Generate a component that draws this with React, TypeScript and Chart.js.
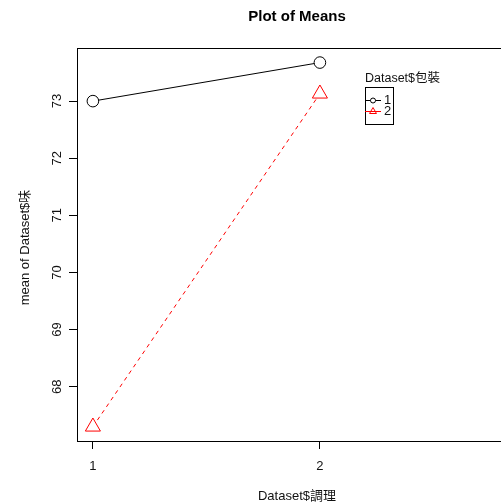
import React, { useEffect, useRef } from "react";
import { Chart, registerables } from "chart.js";

Chart.register(...registerables);

const chartTitle = "Plot of Means";
const xAxisTitle = "Dataset$調理";
const yAxisTitle = "mean of Dataset$味";
const legendTitle = "Dataset$包裝";
const categories = [1, 2];
const seriesLabels = ["1", "2"];
const series1 = [73.0, 73.675];
const series2 = [67.3, 73.13];
const xTicks = [1, 2];
const yTicks = [68, 69, 70, 71, 72, 73];

const FONT = '"Liberation Sans", Arial, "Noto Sans CJK TC", sans-serif';

const rPlugin = {
  id: "rStyle",
  afterDraw(chart: any) {
    const ctx = chart.ctx as CanvasRenderingContext2D;
    const a = chart.chartArea;
    const xs = chart.scales.x;
    const ys = chart.scales.y;
    ctx.save();
    // box
    ctx.strokeStyle = "#000";
    ctx.lineWidth = 1;
    ctx.strokeRect(Math.round(a.left) + 0.5, Math.round(a.top) + 0.5, Math.round(a.right - a.left), Math.round(a.bottom - a.top));
    ctx.fillStyle = "#111";
    ctx.font = "13px " + FONT;
    // x tick labels
    ctx.textAlign = "center";
    ctx.textBaseline = "middle";
    xTicks.forEach((v) => {
      ctx.fillText(String(v), xs.getPixelForValue(v), 466);
    });
    // y tick labels (rotated)
    yTicks.forEach((v) => {
      const y = ys.getPixelForValue(v);
      ctx.save();
      ctx.translate(57, y);
      ctx.rotate(-Math.PI / 2);
      ctx.fillText(String(v), 0, 0);
      ctx.restore();
    });
    // axis titles
    const cx = (a.left + a.right) / 2;
    const cy = (a.top + a.bottom) / 2;
    ctx.fillText(xAxisTitle, cx - 1, 496);
    ctx.save();
    ctx.translate(25, cy + 3);
    ctx.rotate(-Math.PI / 2);
    ctx.fillText(yAxisTitle, 0, 0);
    ctx.restore();
    // main title
    ctx.fillStyle = "#000";
    ctx.font = "bold 15px " + FONT;
    ctx.fillText(chartTitle, cx - 1, 17);
    // legend
    ctx.fillStyle = "#111";
    ctx.font = "12.5px " + FONT;
    ctx.textAlign = "left";
    ctx.fillText(legendTitle, 365, 79);
    ctx.strokeStyle = "#000";
    ctx.strokeRect(365.5, 87.5, 28, 37);
    const rows = [100.5, 111.5];
    ctx.font = "13px " + FONT;
    chart.data.datasets.forEach((ds: any, i: number) => {
      const y = rows[i];
      ctx.strokeStyle = ds.borderColor;
      ctx.beginPath();
      ctx.moveTo(365, y);
      ctx.lineTo(381, y);
      ctx.stroke();
      ctx.beginPath();
      if (i === 0) {
        ctx.arc(373, y, 2.5, 0, Math.PI * 2);
        ctx.fillStyle = "#fff";
        ctx.fill();
        ctx.stroke();
      } else {
        const r = 4;
        ctx.moveTo(373, y - r);
        ctx.lineTo(373 + r * 0.866, y + r / 2);
        ctx.lineTo(373 - r * 0.866, y + r / 2);
        ctx.closePath();
        ctx.stroke();
      }
      ctx.fillStyle = "#111";
      ctx.fillText(ds.label, 384, y);
    });
    ctx.restore();
  },
};

export default function App() {
  const ref = useRef<HTMLCanvasElement | null>(null);
  useEffect(() => {
    if (!ref.current) return;
    const chart = new Chart(ref.current, {
      type: "line",
      data: {
        datasets: [
          {
            label: seriesLabels[0],
            data: categories.map((c, i) => ({ x: c, y: series1[i] })),
            borderColor: "#000000",
            borderWidth: 1,
            pointStyle: "circle",
            pointRadius: 5.8,
            pointBackgroundColor: "#ffffff",
            pointBorderColor: "#000000",
            pointBorderWidth: 1,
          },
          {
            label: seriesLabels[1],
            data: categories.map((c, i) => ({ x: c, y: series2[i] })),
            borderColor: "#ff0000",
            borderWidth: 1,
            borderDash: [4, 4],
            pointStyle: "triangle",
            pointRadius: 8.7,
            pointBackgroundColor: "#ffffff",
            pointBorderColor: "#ff0000",
            pointBorderWidth: 1,
          },
        ],
      },
      options: {
        animation: false,
        responsive: false,
        devicePixelRatio: 1,
        layout: { padding: { left: 0, top: 48, right: 21, bottom: 0 } },
        plugins: { legend: { display: false }, title: { display: false }, tooltip: { enabled: false } },
        scales: {
          x: {
            type: "linear",
            min: 0.93,
            max: 2.877,
            afterBuildTicks: (s: any) => {
              s.ticks = xTicks.map((v) => ({ value: v }));
            },
            afterFit: (s: any) => {
              s.height = 62;
            },
            ticks: { display: false },
            border: { display: false },
            grid: { drawOnChartArea: false, drawTicks: true, tickLength: 8, color: "#000", lineWidth: 1 },
          },
          y: {
            type: "linear",
            min: 67.05,
            max: 73.93,
            afterBuildTicks: (s: any) => {
              s.ticks = yTicks.map((v) => ({ value: v }));
            },
            afterFit: (s: any) => {
              s.width = 77;
            },
            ticks: { display: false },
            border: { display: false },
            grid: { drawOnChartArea: false, drawTicks: true, tickLength: 8, color: "#000", lineWidth: 1 },
          },
        },
      },
      plugins: [rPlugin],
    });
    return () => chart.destroy();
  }, []);
  return (
    <div style={{ position: "fixed", left: 0, top: 0, width: 501, height: 503, overflow: "hidden", background: "#fff" }}>
      <canvas ref={ref} width={540} height={503} style={{ width: 540, height: 503, display: "block" }} />
    </div>
  );
}
